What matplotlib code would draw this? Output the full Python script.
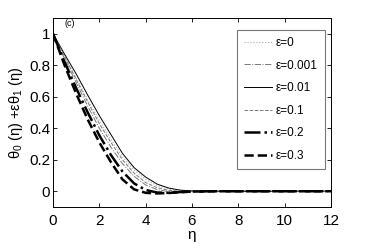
import numpy as np
import matplotlib.pyplot as plt

plt.rcParams['font.family'] = ['Liberation Sans', 'DejaVu Sans']
plt.rcParams['mathtext.fontset'] = 'custom'
plt.rcParams['mathtext.rm'] = 'Liberation Sans'

# data
eta = [0, 0.5, 1, 1.5, 2, 2.5, 3, 3.5, 4, 4.5, 5, 5.5, 6, 7, 8, 9, 10, 11, 12]
labels = ['ε=0', 'ε=0.001', 'ε=0.01', 'ε=0.1', 'ε=0.2', 'ε=0.3']
theta_e0 = [1, 0.86, 0.72, 0.58, 0.45, 0.33, 0.22, 0.135, 0.075, 0.035, 0.014, 0.004, 0.001, 0, 0, 0, 0, 0, 0]
theta_e0001 = [1, 0.84, 0.69, 0.54, 0.40, 0.28, 0.175, 0.095, 0.04, 0.01, -0.002, -0.003, -0.001, 0, 0, 0, 0, 0, 0]
theta_e001 = [1, 0.87, 0.745, 0.61, 0.48, 0.36, 0.24, 0.15, 0.09, 0.045, 0.02, 0.007, 0.002, 0, 0, 0, 0, 0, 0]
theta_e01 = [1, 0.855, 0.71, 0.565, 0.43, 0.31, 0.2, 0.115, 0.055, 0.022, 0.006, 0.0, -0.001, 0, 0, 0, 0, 0, 0]
theta_e02 = [1, 0.82, 0.655, 0.5, 0.355, 0.23, 0.125, 0.05, 0.008, -0.008, -0.01, -0.005, -0.002, 0, 0, 0, 0, 0, 0]
theta_e03 = [1, 0.8, 0.62, 0.455, 0.31, 0.185, 0.075, 0.012, -0.01, -0.014, -0.011, -0.006, -0.002, 0, 0, 0, 0, 0, 0]

series = [theta_e0, theta_e0001, theta_e001, theta_e01, theta_e02, theta_e03]
styles = [
    dict(ls=':', color='#aaaaaa', lw=0.8),
    dict(ls='-.', color='#777777', lw=0.7),
    dict(ls='-', color='k', lw=0.7),
    dict(ls='--', color='#777777', lw=0.7),
    dict(ls='-.', color='k', lw=1.8),
    dict(ls='--', color='k', lw=1.8),
]

fig = plt.figure(figsize=(3.65, 2.44), dpi=100)
ax = fig.add_axes([53 / 365, 37 / 244, 278 / 365, 189 / 244])

for y, lab, st in zip(series, labels, styles):
    ax.plot(eta, y, label=lab, **st)

ax.set_xlim(0, 12)
ax.set_ylim(-0.1, 1.1)
ax.set_xticks([0, 2, 4, 6, 8, 10, 12])
ax.set_yticks([0, 0.2, 0.4, 0.6, 0.8, 1])
ax.set_yticklabels(['0', '0.2', '0.4', '0.6', '0.8', '1'])
ax.tick_params(direction='in', length=3, width=0.6, labelsize=11, top=True, right=True)
ax.tick_params(axis='x', pad=5)
ax.tick_params(axis='y', pad=2)
for s in ax.spines.values():
    s.set_linewidth(0.7)

ax.set_xlabel('η', fontsize=11, labelpad=0)
ax.set_ylabel(r'θ$_0$ (η) +εθ$_1$ (η)', fontsize=10.5, labelpad=3)
ax.text(0.5, 1.065, '(c)', fontsize=6.5, va='center')

leg = ax.legend(loc='upper right', bbox_to_anchor=(0.978, 0.937), fontsize=8.5, frameon=True,
                fancybox=False, edgecolor='#555555', handlelength=2.4, handletextpad=0.3,
                labelspacing=0.9, borderpad=0.6, borderaxespad=0)
leg.get_frame().set_linewidth(0.8)

fig.savefig('out.png', dpi=100)
